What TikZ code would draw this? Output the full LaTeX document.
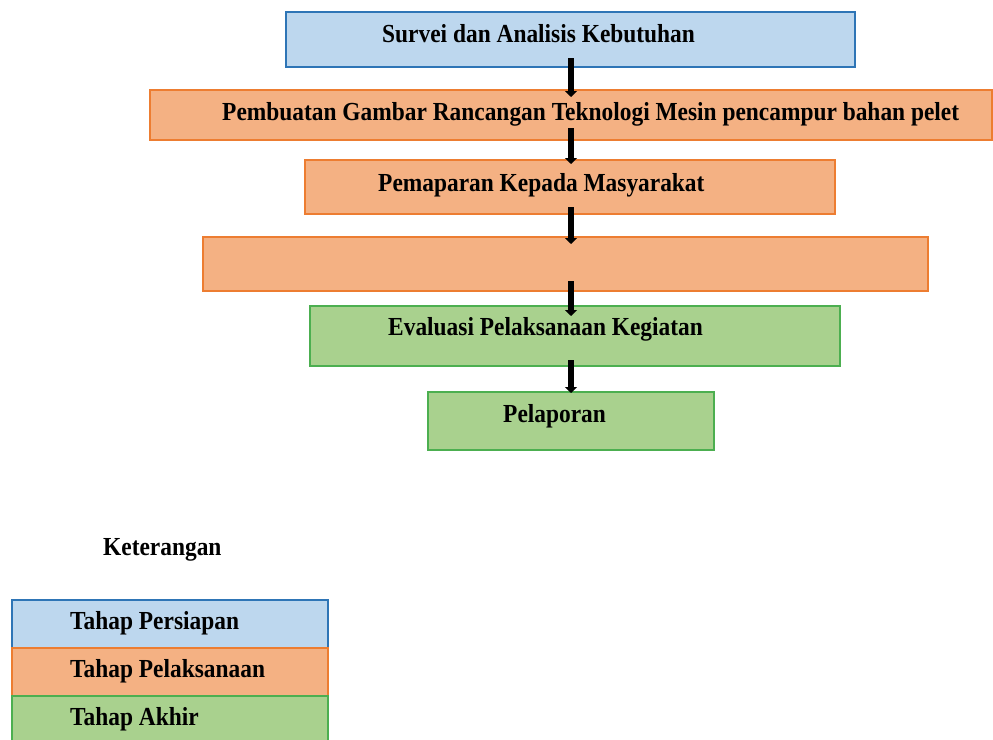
\documentclass[tikz,border=0pt]{standalone}
\usepackage{fontspec}
\setmainfont{Liberation Serif}[FakeStretch=0.9]
\usetikzlibrary{arrows.meta}
\definecolor{bfill}{HTML}{BDD7EE}
\definecolor{bline}{HTML}{2E75B6}
\definecolor{ofill}{HTML}{F4B183}
\definecolor{oline}{HTML}{ED7D31}
\definecolor{gfill}{HTML}{A9D18E}
\definecolor{gline}{HTML}{4CAF50}
\begin{document}
\begin{tikzpicture}[x=1pt,y=-1pt,
  box/.style={rectangle,inner sep=0pt,outer sep=0pt,line width=1.5pt},
  prep/.style={box,fill=bfill,draw=bline},
  exec/.style={box,fill=ofill,draw=oline},
  fin/.style={box,fill=gfill,draw=gline},
  lbl/.style={anchor=base west,inner sep=0pt,font=\fontsize{26}{30}\selectfont\bfseries},
  flow/.style={line width=6pt,-{Triangle[width=12pt,length=6pt]}}]
\useasboundingbox (0,0) rectangle (993,739);
% flow boxes
\node[prep,minimum width=569pt,minimum height=55pt] (b1) at (570.5,39.5) {};
\node[exec,minimum width=842pt,minimum height=50pt] (b2) at (571,115) {};
\node[exec,minimum width=530pt,minimum height=54pt] (b3) at (570,187) {};
\node[exec,minimum width=725pt,minimum height=54pt] (b4) at (565.5,264) {};
\node[fin,minimum width=530pt,minimum height=60pt] (b5) at (575,336) {};
\node[fin,minimum width=286pt,minimum height=58pt] (b6) at (571,421) {};
% texts
\node[lbl] (t1) at (382,42) {Survei dan Analisis Kebutuhan};
\node[lbl] (t2) at (222,120) {Pembuatan Gambar Rancangan Teknologi Mesin pencampur bahan pelet};
\node[lbl] (t3) at (378,191) {Pemaparan Kepada Masyarakat};
\node[lbl] (t5) at (388,335) {Evaluasi Pelaksanaan Kegiatan};
\node[lbl] (t6) at (503,422) {Pelaporan};
% arrows
\coordinate (a1s) at (571,58);  \coordinate (a1e) at (571,97);
\draw[flow] (a1s) -- (a1e);
\coordinate (a2s) at (571,128); \coordinate (a2e) at (571,164);
\draw[flow] (a2s) -- (a2e);
\coordinate (a3s) at (571,207); \coordinate (a3e) at (571,244);
\draw[flow] (a3s) -- (a3e);
\coordinate (a4s) at (571,281); \coordinate (a4e) at (571,316);
\draw[flow] (a4s) -- (a4e);
\coordinate (a5s) at (571,360); \coordinate (a5e) at (571,393);
\draw[flow] (a5s) -- (a5e);
% legend
\node[lbl] (kt) at (103,555) {Keterangan};
\node[prep,minimum width=316pt,minimum height=48pt] (l1) at (170,624) {};
\node[exec,minimum width=316pt,minimum height=48pt] (l2) at (170,672) {};
\node[fin,minimum width=316pt,minimum height=48pt] (l3) at (170,720) {};
\node[lbl] (lt1) at (70,629) {Tahap Persiapan};
\node[lbl] (lt2) at (70,677) {Tahap Pelaksanaan};
\node[lbl] (lt3) at (70,725) {Tahap Akhir};
\end{tikzpicture}
\end{document}
